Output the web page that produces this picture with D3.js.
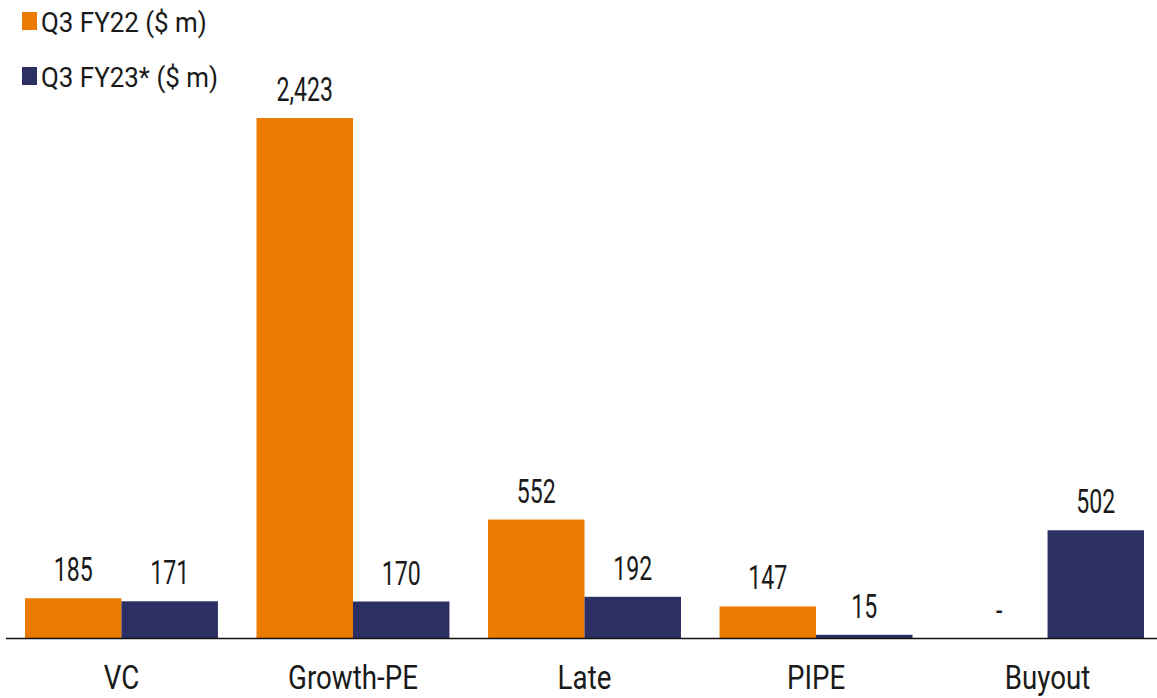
<!DOCTYPE html>
<html>
<head>
<meta charset="utf-8">
<script src="https://cdn.jsdelivr.net/npm/d3@7"></script>
<style>
  html, body { margin: 0; padding: 0; background: #fff; }
  svg { display: block; }
  text { font-family: "Roboto", "DejaVu Sans Condensed", sans-serif; fill: #1a1a1a; }
</style>
</head>
<body>
<svg id="chart" width="1157" height="698"></svg>
<script>
// Deal value by stage, quarter-on-quarter
const categories = ["VC", "Growth-PE", "Late", "PIPE", "Buyout"];
const seriesNames = ["Q3 FY22 ($ m)", "Q3 FY23* ($ m)"];
const fy22 = [185, 2423, 552, 147, null];
const fy23 = [171, 170, 192, 15, 502];
const colors = ["#EA7B00", "#2B2F63"];

const width = 1157, height = 698;
const baseY = 638;
const svg = d3.select("#chart");

const x0 = d3.scaleBand()
  .domain(categories)
  .range([5.7, 1163.3])
  .paddingInner(0.1667)
  .paddingOuter(0.0833);

const x1 = d3.scaleBand()
  .domain([0, 1])
  .range([0, x0.bandwidth()]);

const y = d3.scaleLinear()
  .domain([0, 2423])
  .range([baseY, 118]);

const rows = categories.map((c, i) => ({ cat: c, vals: [fy22[i], fy23[i]] }));

const groups = svg.append("g")
  .selectAll("g")
  .data(rows)
  .join("g")
  .attr("transform", d => `translate(${x0(d.cat)},0)`);

groups.selectAll("rect")
  .data(d => d.vals.map((v, k) => ({ v, k })).filter(e => e.v != null))
  .join("rect")
  .attr("x", e => x1(e.k))
  .attr("width", x1.bandwidth())
  .attr("y", e => y(e.v))
  .attr("height", e => baseY - y(e.v))
  .attr("fill", e => colors[e.k]);

// condensed-looking labels: horizontally squeezed text
const fmt = d3.format(",");
groups.selectAll("text.val")
  .data(d => d.vals.map((v, k) => ({ v, k })))
  .join("text")
  .attr("class", "val")
  .attr("transform", e => {
    const cx = x1(e.k) + x1.bandwidth() / 2;
    const cy = e.v == null ? baseY - 16 : y(e.v) - 17;
    return `translate(${cx},${cy}) scale(0.7,1)`;
  })
  .attr("text-anchor", "middle")
  .attr("font-size", 33)
  .text(e => (e.v == null ? "-" : fmt(e.v)));

// baseline axis with category names
const axis = svg.append("g")
  .attr("transform", `translate(0,${baseY})`)
  .call(d3.axisBottom(x0).tickSize(0));
axis.select(".domain").attr("d", `M6,0.5H1157`).attr("stroke", "#111").attr("stroke-width", 1.6);
axis.selectAll(".tick text")
  .attr("y", 0).attr("dy", null)
  .attr("transform", "translate(0,51) scale(0.84,1)")
  .attr("font-size", 33)
  .attr("fill", "#1a1a1a")
  .style("font-family", '"Roboto", sans-serif');

// legend
const legend = svg.append("g")
  .selectAll("g")
  .data(seriesNames)
  .join("g")
  .attr("transform", (d, i) => `translate(22,${12 + i * 55})`);
legend.append("rect")
  .attr("width", 15).attr("height", 18)
  .attr("fill", (d, i) => colors[i]);
legend.append("text")
  .attr("transform", "translate(19,20) scale(0.96,1)")
  .attr("font-size", 27)
  .text(d => d);
</script>
</body>
</html>
